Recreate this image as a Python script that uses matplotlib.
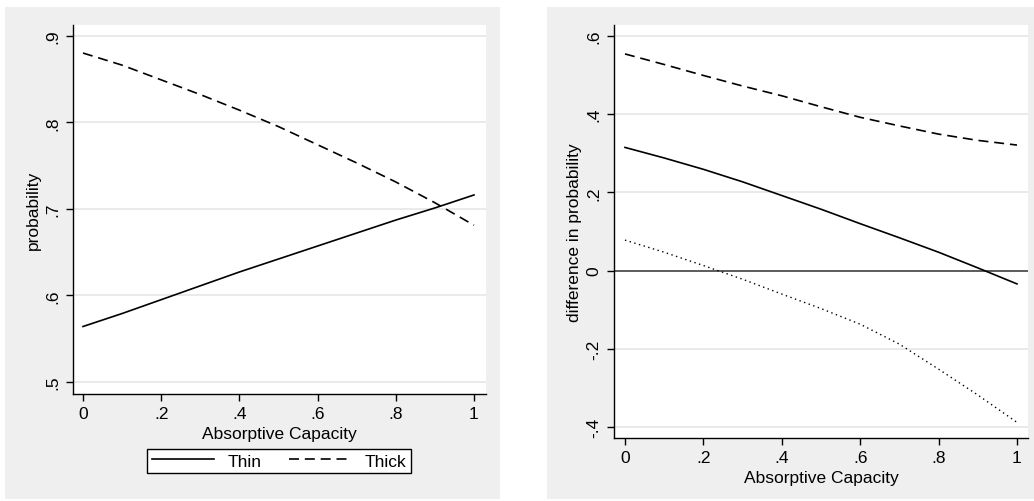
import matplotlib
matplotlib.use('Agg')
import matplotlib.pyplot as plt
from matplotlib.patches import Rectangle

plt.rcParams['font.family'] = ['Liberation Sans', 'DejaVu Sans']

# absorptive capacity grid
cap = [0, .1, .2, .3, .4, .5, .6, .7, .8, .9, 1]

# left panel: predicted probability
thin = [0.564, 0.579, 0.595, 0.611, 0.627, 0.642, 0.657, 0.672, 0.687, 0.701, 0.716]
thick = [0.880, 0.866, 0.849, 0.832, 0.814, 0.795, 0.774, 0.753, 0.731, 0.707, 0.681]

# right panel: difference with bounds
diff = [0.315, 0.288, 0.259, 0.227, 0.192, 0.157, 0.120, 0.084, 0.047, 0.007, -0.034]
upper = [0.554, 0.527, 0.499, 0.472, 0.447, 0.419, 0.392, 0.370, 0.349, 0.333, 0.321]
lower = [0.078, 0.047, 0.013, -0.022, -0.060, -0.097, -0.137, -0.188, -0.252, -0.318, -0.388]

xticks = [0, .2, .4, .6, .8, 1]
xlabels = ['0', '.2', '.4', '.6', '.8', '1']
yticks_l = [.5, .6, .7, .8, .9]
ylabels_l = ['.5', '.6', '.7', '.8', '.9']
yticks_r = [-.4, -.2, 0, .2, .4, .6]
ylabels_r = ['-.4', '-.2', '0', '.2', '.4', '.6']

W, H = 1034, 502
fig = plt.figure(figsize=(W / 100, H / 100), dpi=100)
bg = '#efefef'
fs = 12.5

# grey graph regions (behind the axes)
fig.patches.append(Rectangle((5 / W, 1 - 500 / H), 495 / W, 492 / H, transform=fig.transFigure,
                             facecolor=bg, edgecolor='none', zorder=-5))
fig.patches.append(Rectangle((547 / W, 1 - 500 / H), 487 / W, 492 / H, transform=fig.transFigure,
                             facecolor=bg, edgecolor='none', zorder=-5))

ax1 = fig.add_axes([73 / W, 1 - 395 / H, 413 / W, 369 / H])
ax2 = fig.add_axes([614 / W, 1 - 439 / H, 414 / W, 413 / H])


def style(ax, yt, yl):
    for s in ['top', 'right']:
        ax.spines[s].set_visible(False)
    for s in ['left', 'bottom']:
        ax.spines[s].set_linewidth(1.0)
    ax.set_xticks(xticks)
    ax.set_xticklabels(xlabels, fontsize=fs)
    ax.set_yticks(yt)
    ax.set_yticklabels(yl, fontsize=fs, rotation=90, va='center')
    ax.tick_params(length=5, width=1, direction='out', pad=4)
    ax.grid(axis='y', color='#e6e6e6', lw=1.2)
    ax.set_axisbelow(True)
    ax.set_xlabel('Absorptive Capacity', fontsize=fs, labelpad=3)


ax1.plot(cap, thin, color='black', lw=1.2, label='Thin')
ax1.plot(cap, thick, color='black', lw=1.2, ls=(0, (6, 3.5)), label='Thick')
ax1.set_xlim(-0.0256, 1.0307)
ax1.set_ylim(0.486, 0.9124)
style(ax1, yticks_l, ylabels_l)
ax1.set_ylabel('probability', fontsize=fs, labelpad=3)
leg = ax1.legend(loc='center', bbox_to_anchor=(279 / W, 1 - 462 / H), bbox_transform=fig.transFigure,
                 ncol=2, frameon=True, fancybox=False, edgecolor='black', fontsize=fs,
                 handlelength=3.6, handletextpad=0.75, columnspacing=1.6, borderpad=0.25,
                 borderaxespad=0, framealpha=1)
leg.get_frame().set_linewidth(1.0)

ax2.axhline(0, color='#444444', lw=1.2)
ax2.plot(cap, diff, color='black', lw=1.2)
ax2.plot(cap, upper, color='black', lw=1.2, ls=(0, (6, 3.5)))
ax2.plot(cap, lower, color='black', lw=1.0, ls=(0, (1, 2.5)))
ax2.set_xlim(-0.028, 1.0281)
ax2.set_ylim(-0.428, 0.628)
style(ax2, yticks_r, ylabels_r)
ax2.set_ylabel('difference in probability', fontsize=fs, labelpad=3)

fig.savefig('out.png', dpi=100)
